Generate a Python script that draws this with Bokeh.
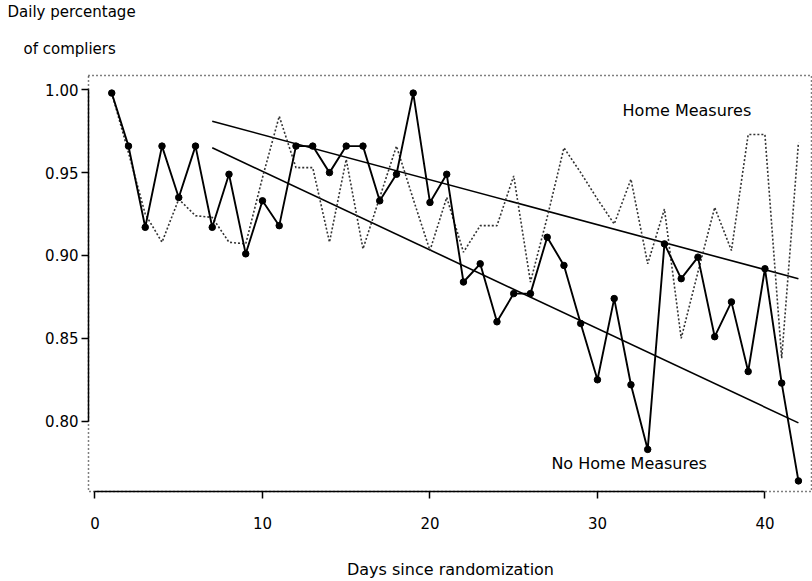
from bokeh.plotting import figure
from bokeh.models import Label, FixedTicker, PrintfTickFormatter, Range1d, Title
from bokeh.embed import file_html
from bokeh.resources import INLINE

# ---- data ----
days = list(range(1, 43))
no_home = [0.998, 0.966, 0.917, 0.966, 0.935, 0.966, 0.917, 0.949, 0.901, 0.933,
           0.918, 0.966, 0.966, 0.950, 0.966, 0.966, 0.933, 0.949, 0.998, 0.932,
           0.949, 0.884, 0.895, 0.860, 0.877, 0.877, 0.911, 0.894, 0.859, 0.825,
           0.874, 0.822, 0.783, 0.907, 0.886, 0.899, 0.851, 0.872, 0.830, 0.892,
           0.823, 0.764]
home = [0.998, 0.962, 0.925, 0.908, 0.934, 0.924, 0.923, 0.908, 0.907, 0.947,
        0.984, 0.953, 0.953, 0.908, 0.958, 0.904, 0.935, 0.966, 0.934, 0.903,
        0.935, 0.902, 0.918, 0.918, 0.948, 0.884, 0.923, 0.965, 0.950, 0.934,
        0.919, 0.946, 0.895, 0.928, 0.850, 0.890, 0.929, 0.903, 0.973, 0.973,
        0.838, 0.968]
trend_days = [7, 42]
home_trend = [0.981, 0.886]
no_home_trend = [0.965, 0.799]
x_ticks = [0, 10, 20, 30, 40]
y_ticks = [0.80, 0.85, 0.90, 0.95, 1.00]

FONT = "DejaVu Sans"

p = figure(width=812, height=581, output_backend="svg", toolbar_location=None,
           x_range=Range1d(-0.388, 42.84), y_range=Range1d(0.7576, 1.0086),
           min_border_left=88, min_border_right=0, min_border_top=75,
           min_border_bottom=89)
p.xgrid.visible = False
p.ygrid.visible = False
p.background_fill_color = "white"
p.border_fill_color = "white"
p.outline_line_color = "black"
p.outline_line_dash = "1 3"
p.outline_line_width = 1.5

for ax in (p.xaxis[0], p.yaxis[0]):
    ax.axis_line_color = "black"
    ax.axis_line_width = 1.5
    ax.major_tick_line_color = "black"
    ax.major_tick_line_width = 1.5
    ax.major_tick_in = 0
    ax.major_tick_out = 7
    ax.minor_tick_line_color = None
    ax.major_label_text_font = FONT
    ax.major_label_text_font_size = "15px"
    ax.major_label_text_color = "black"

p.xaxis.ticker = FixedTicker(ticks=x_ticks)
p.xaxis.bounds = (0, 40)
p.xaxis.major_label_standoff = 18
p.xaxis.axis_label = "Days since randomization"
p.xaxis.axis_label_text_font = FONT
p.xaxis.axis_label_text_font_size = "16px"
p.xaxis.axis_label_text_font_style = "normal"
p.xaxis.axis_label_text_color = "black"
p.xaxis.axis_label_standoff = 28

p.yaxis.ticker = FixedTicker(ticks=y_ticks)
p.yaxis.formatter = PrintfTickFormatter(format="%.2f")
p.yaxis.bounds = (0.80, 1.00)
p.yaxis.major_label_standoff = 3

# y-axis title, two lines at the top left
p.add_layout(Title(text="of compliers", align="left", offset=-65, standoff=35,
                   text_font=FONT, text_font_size="15px", text_font_style="normal",
                   text_line_height=0.6, text_color="black"), "above")
p.add_layout(Title(text="Daily percentage", align="left", offset=-81, standoff=0,
                   text_font=FONT, text_font_size="15px", text_font_style="normal",
                   text_line_height=0.6, text_color="black"), "above")

# trend lines
p.line(trend_days, home_trend, line_color="black", line_width=1.6)
p.line(trend_days, no_home_trend, line_color="black", line_width=1.6)

# Home Measures: dotted
p.line(days, home, line_color="#333333", line_width=1.6, line_dash="2 2")
# No Home Measures: solid with dots
p.line(days, no_home, line_color="black", line_width=1.9)
p.scatter(days, no_home, size=6.5, color="black")

def lab(txt, x, y, size="16px", align="left"):
    p.add_layout(Label(x=x, y=y, text=txt, text_font=FONT, text_font_size=size,
                       text_align=align, text_baseline="middle", text_color="black"))

lab("Home Measures", 31.5, 0.9875)
lab("No Home Measures", 27.25, 0.7747)

open("out.html", "w").write(file_html(p, INLINE))
